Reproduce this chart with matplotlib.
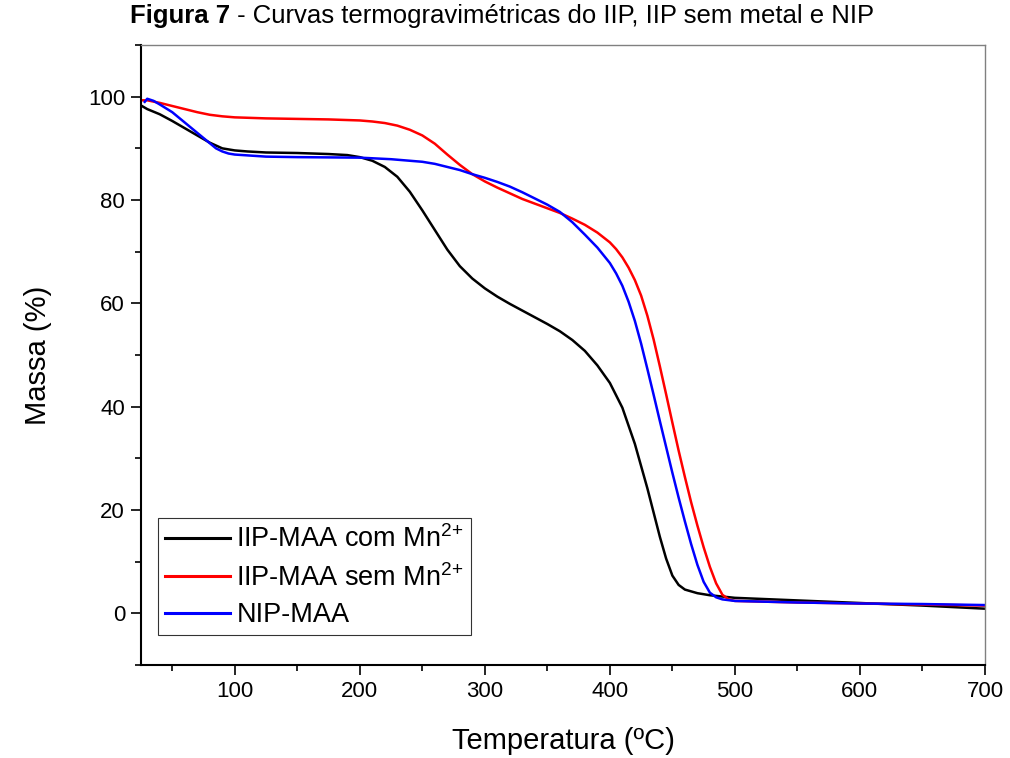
import matplotlib
matplotlib.use('Agg')
import matplotlib.pyplot as plt
from matplotlib.ticker import MultipleLocator

plt.rcParams['font.family'] = ['Liberation Sans', 'DejaVu Sans']
plt.rcParams['mathtext.fontset'] = 'custom'
plt.rcParams['mathtext.rm'] = 'Liberation Sans'
plt.rcParams['mathtext.default'] = 'regular'

## curva IIP-MAA com Mn2+
temp_com = [25, 30, 40, 50, 60, 70, 80, 90, 100, 110, 125, 150, 175, 190, 200, 210, 220, 230, 240, 250,
            260, 270, 280, 290, 300, 310, 320, 330, 340, 350, 360, 370, 380, 390, 400, 410, 420,
            430, 440, 445, 450, 455, 460, 470, 480, 500, 550, 600, 650, 700]
massa_com = [98.3, 97.6, 96.6, 95.3, 93.9, 92.5, 91.1, 90.0, 89.6, 89.4, 89.2, 89.1, 88.9, 88.7, 88.3, 87.6, 86.4, 84.5, 81.6, 78.0,
             74.2, 70.4, 67.2, 64.8, 62.9, 61.3, 59.9, 58.6, 57.3, 56.0, 54.6, 52.9, 50.8, 48.0, 44.6, 39.8, 32.8,
             24.2, 14.8, 10.6, 7.3, 5.5, 4.6, 3.9, 3.5, 3.0, 2.5, 2.0, 1.5, 0.9]

## curva IIP-MAA sem Mn2+
temp_sem = [25, 30, 40, 50, 60, 70, 80, 90, 100, 125, 150, 175, 200, 210, 220, 230, 240, 250, 260, 270,
            280, 290, 300, 310, 320, 330, 340, 350, 360, 370, 380, 390, 400, 405, 410, 415, 420, 425, 430,
            435, 440, 445, 450, 455, 460, 465, 470, 475, 480, 485, 490, 495, 500, 550, 600, 650, 700]
massa_sem = [99.3, 99.3, 98.8, 98.2, 97.6, 97.0, 96.5, 96.2, 96.0, 95.8, 95.7, 95.6, 95.4, 95.2, 94.9, 94.4, 93.6, 92.5, 90.9, 88.8,
             86.8, 85.0, 83.6, 82.4, 81.3, 80.2, 79.3, 78.4, 77.5, 76.4, 75.2, 73.7, 71.8, 70.5, 68.9, 66.9, 64.5, 61.5, 57.6,
             53.0, 47.8, 42.4, 36.9, 31.5, 26.4, 21.5, 17.0, 12.8, 9.0, 5.8, 3.6, 2.7, 2.4, 2.1, 1.9, 1.7, 1.5]

## curva NIP-MAA
temp_nip = [28, 30, 35, 40, 50, 60, 70, 80, 85, 90, 95, 100, 125, 150, 200, 225, 250, 260, 270, 280, 290, 300,
            310, 320, 330, 340, 350, 360, 370, 380, 390, 400, 405, 410, 415, 420, 425, 430, 435, 440, 445,
            450, 455, 460, 465, 470, 475, 480, 485, 490, 500, 550, 600, 650, 700]
massa_nip = [99.0, 99.6, 99.2, 98.5, 97.0, 95.0, 93.0, 91.0, 90.0, 89.4, 89.0, 88.8, 88.4, 88.3, 88.2, 87.9, 87.4, 87.0, 86.4, 85.8, 85.0, 84.3,
             83.5, 82.6, 81.5, 80.3, 79.1, 77.7, 75.7, 73.3, 70.8, 67.8, 65.8, 63.4, 60.3, 56.6, 52.2, 47.3, 42.3, 37.2, 32.2,
             27.2, 22.4, 17.8, 13.4, 9.4, 6.1, 4.0, 3.1, 2.7, 2.4, 2.1, 1.9, 1.8, 1.6]

labels = ['IIP-MAA com Mn$^{2{+}}$', 'IIP-MAA sem Mn$^{2{+}}$', 'NIP-MAA']
cores = ['black', 'red', 'blue']

fig = plt.figure(figsize=(10.1, 7.58), dpi=100)
ax = fig.add_axes([0.1396, 0.1227, 0.8356, 0.8179])

for t, m, lab, c in zip([temp_com, temp_sem, temp_nip], [massa_com, massa_sem, massa_nip], labels, cores):
    ax.plot(t, m, color=c, lw=1.8, label=lab, solid_joinstyle='round')

ax.set_xlim(25, 700)
ax.set_ylim(-10, 110)
ax.xaxis.set_major_locator(MultipleLocator(100))
ax.xaxis.set_minor_locator(MultipleLocator(50))
ax.yaxis.set_major_locator(MultipleLocator(20))
ax.yaxis.set_minor_locator(MultipleLocator(10))
ax.tick_params(which='major', direction='out', length=7.5, width=1.2, labelsize=16, pad=4, top=False, right=False)
ax.tick_params(which='minor', direction='out', length=4, width=1.2, top=False, right=False)

for s in ['left', 'bottom']:
    ax.spines[s].set_linewidth(1.5)
    ax.spines[s].set_color('black')
for s in ['top', 'right']:
    ax.spines[s].set_linewidth(1.0)
    ax.spines[s].set_color('#808080')

ax.set_xlabel('Temperatura (ºC)', fontsize=21, labelpad=18)
ax.set_ylabel('Massa (%)', fontsize=21, labelpad=26)

leg = ax.legend(loc='lower left', bbox_to_anchor=(0.02, 0.048), borderaxespad=0, fontsize=19.5,
                frameon=True, fancybox=False, edgecolor='black', handlelength=2.4, handletextpad=0.25,
                labelspacing=0.4, borderpad=0.25)
leg.get_frame().set_linewidth(0.8)
for l in leg.get_lines():
    l.set_linewidth(2.2)

t1 = fig.text(0.129, 0.970, 'Figura 7', fontsize=18.5, fontweight='bold', va='baseline')
ax.annotate(' - Curvas termogravimétricas do IIP, IIP sem metal e NIP', xy=(1, 0), xycoords=t1,
            fontsize=18.5, va='bottom', annotation_clip=False)

fig.savefig('out.png', dpi=100)
